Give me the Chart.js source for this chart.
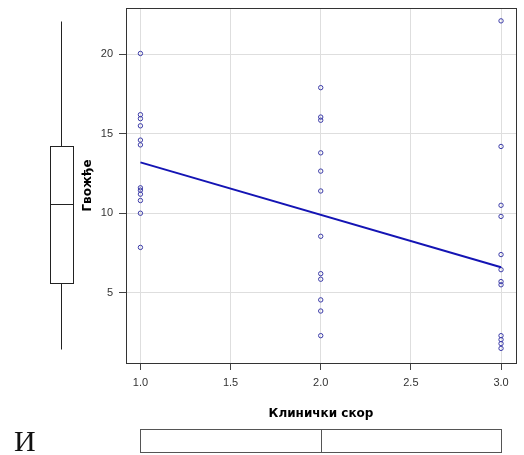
<!DOCTYPE html>
<html>
<head>
<meta charset="utf-8">
<script src="https://cdn.jsdelivr.net/npm/chart.js@4.4.1/dist/chart.umd.min.js"></script>
<style>
  html, body { margin: 0; padding: 0; background: #fff; }
  #wrap { width: 524px; height: 455px; }
</style>
</head>
<body>
<div id="wrap"><canvas id="chart" width="524" height="455"></canvas></div>
<script>
// ---- data ----
const xTicks = [1.0, 1.5, 2.0, 2.5, 3.0];
const yTicks = [5, 10, 15, 20];

const scoreLevels = [1, 2, 3];
const ironScore1 = [20.05, 16.2, 15.95, 15.5, 14.6, 14.3, 11.6, 11.45, 11.2, 10.8, 10.0, 7.85];
const ironScore2 = [17.9, 16.05, 15.85, 13.8, 12.65, 11.4, 8.55, 6.2, 5.85, 4.55, 3.85, 2.3];
const ironScore3 = [22.1, 14.2, 10.5, 9.8, 7.4, 6.45, 5.7, 5.5, 2.3, 2.05, 1.8, 1.5];

// fitted line (score -> iron)
const fitX = [1, 3];
const fitY = [13.2, 6.6];

// marginal boxplots: min, q1, median, q3, max
const ironBox = [1.45, 5.6, 10.6, 14.2, 22.1];
const scoreBox = [1, 1, 2, 3, 3];

const axisFont = '"Liberation Sans", Arial, sans-serif';
const titleFont = '"DejaVu Sans", Verdana, sans-serif';

const points = [];
[ironScore1, ironScore2, ironScore3].forEach((arr, i) => {
    arr.forEach(v => points.push({ x: scoreLevels[i], y: v }));
});
const fitPoints = fitX.map((x, i) => ({ x: x, y: fitY[i] }));

// frame, marginal boxplots and the stray letter under the y margin
const extras = {
    id: 'extras',
    afterDraw(chart) {
        const { ctx, chartArea: a, scales } = chart;
        ctx.save();
        ctx.strokeStyle = '#333';
        ctx.lineWidth = 1;
        ctx.strokeRect(a.left + 0.5, a.top + 0.5, a.right - a.left, a.bottom - a.top);

        // vertical boxplot of iron, left margin
        const y = scales.y;
        const bx0 = 50, bx1 = 73, bxc = 61.5;
        const [ymin, yq1, ymed, yq3, ymax] = ironBox.map(v => Math.round(y.getPixelForValue(v)) + 0.5);
        ctx.strokeStyle = '#222';
        ctx.beginPath();
        ctx.moveTo(bxc, ymax); ctx.lineTo(bxc, yq3);
        ctx.moveTo(bxc, yq1); ctx.lineTo(bxc, ymin);
        ctx.stroke();
        ctx.strokeRect(bx0 + 0.5, yq3, bx1 - bx0, yq1 - yq3);
        ctx.beginPath();
        ctx.moveTo(bx0, ymed); ctx.lineTo(bx1, ymed);
        ctx.stroke();

        // horizontal boxplot of score, bottom margin
        const x = scales.x;
        const by0 = 429, by1 = 452, byc = 440.5;
        const [xmin, xq1, xmed, xq3, xmax] = scoreBox.map(v => Math.round(x.getPixelForValue(v)) + 0.5);
        ctx.strokeStyle = '#555';
        ctx.beginPath();
        ctx.moveTo(xmin, byc); ctx.lineTo(xq1, byc);
        ctx.moveTo(xq3, byc); ctx.lineTo(xmax, byc);
        ctx.stroke();
        ctx.strokeRect(xq1, by0 + 0.5, xq3 - xq1, by1 - by0);
        ctx.beginPath();
        ctx.moveTo(xmed, by0); ctx.lineTo(xmed, by1);
        ctx.stroke();

        ctx.fillStyle = '#111';
        ctx.font = '30px "Liberation Serif", "Times New Roman", serif';
        ctx.textBaseline = 'alphabetic';
        ctx.fillText('И', 14, 451);
        ctx.restore();
    }
};

new Chart(document.getElementById('chart'), {
    type: 'scatter',
    data: {
        datasets: [
            {
                type: 'line',
                data: fitPoints,
                borderColor: '#1414b4',
                borderWidth: 2,
                pointRadius: 0,
                fill: false,
                order: 1
            },
            {
                data: points,
                pointStyle: 'circle',
                pointRadius: 2.2,
                borderWidth: 1,
                borderColor: '#3c3ca8',
                backgroundColor: 'rgba(0,0,0,0)',
                order: 2
            }
        ]
    },
    options: {
        responsive: false,
        animation: false,
        devicePixelRatio: 1,
        layout: { padding: { left: 76, top: 8, right: 8, bottom: 26 } },
        plugins: { legend: { display: false }, tooltip: { enabled: false } },
        scales: {
            x: {
                type: 'linear',
                min: 0.92,
                max: 3.083,
                afterBuildTicks: s => { s.ticks = xTicks.map(v => ({ value: v })); },
                afterFit: s => { s.height = 66; s.paddingLeft = 0; s.paddingRight = 0; },
                ticks: {
                    callback: v => Number(v).toFixed(1),
                    color: '#333',
                    font: { family: axisFont, size: 11 },
                    padding: 6,
                    maxRotation: 0
                },
                grid: { color: '#dedede', tickColor: '#444', tickLength: 7 },
                border: { display: false },
                title: {
                    display: true,
                    text: 'Клинички скор',
                    color: '#000',
                    font: { family: titleFont, size: 12, weight: 'bold' },
                    padding: { top: 4, bottom: 8 }
                }
            },
            y: {
                type: 'linear',
                min: 0.58,
                max: 22.91,
                afterBuildTicks: s => { s.ticks = yTicks.map(v => ({ value: v })); },
                afterFit: s => { s.width = 50; s.paddingTop = 0; s.paddingBottom = 0; },
                ticks: {
                    color: '#333',
                    font: { family: axisFont, size: 11 },
                    padding: 6
                },
                grid: { color: '#dedede', tickColor: '#444', tickLength: 7 },
                border: { display: false },
                title: {
                    display: true,
                    text: 'Гвожђе',
                    color: '#000',
                    font: { family: titleFont, size: 12, weight: 'bold' },
                    padding: { top: 5, bottom: 4 }
                }
            }
        }
    },
    plugins: [extras]
});
</script>
</body>
</html>
